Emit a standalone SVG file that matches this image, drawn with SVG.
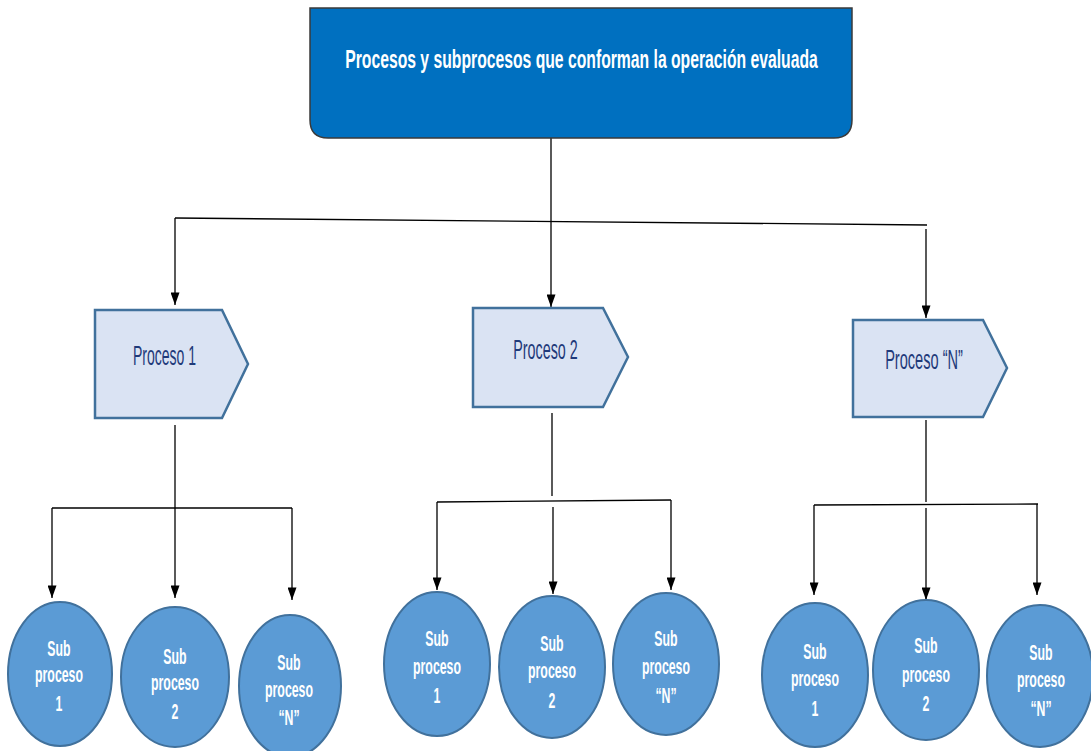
<svg xmlns="http://www.w3.org/2000/svg" width="1091" height="751" viewBox="0 0 1091 751">
<style>
.title{font-family:"Liberation Sans",Arial,sans-serif;font-weight:bold;font-size:26px;fill:#ffffff;text-anchor:middle}
.proc{fill:#DAE3F3;stroke:#41719C;stroke-width:2.5}
.ptxt{font-family:"Liberation Sans",Arial,sans-serif;font-size:27px;fill:#1F3A7A;text-anchor:middle}
.sub{fill:#5B9BD5;stroke:#41719C;stroke-width:2}
.stxt{font-family:"Liberation Sans",Arial,sans-serif;font-weight:bold;font-size:22px;fill:#ffffff;text-anchor:middle}
.line{stroke:#000;stroke-width:1.3;fill:none}
.arr{stroke:#000;stroke-width:1.3;fill:none;marker-end:url(#ah)}
</style>
<defs>
<marker id="ah" viewBox="0 0 14 10" refX="14" refY="5" markerWidth="13" markerHeight="9" markerUnits="userSpaceOnUse" orient="auto">
<path d="M0,0 L14,5 L0,10 Z" fill="#000"/>
</marker>
</defs>
<rect width="1091" height="751" fill="#ffffff"/>
<g id="connectors">
<line class="line" x1="551" y1="138" x2="551" y2="222"/>
<line class="line" x1="175" y1="218" x2="927" y2="225"/>
<path class="arr" d="M175,218 L175,305"/>
<path class="arr" d="M551,222 L551,307"/>
<path class="arr" d="M926,229 L926,318"/>
<line class="line" x1="175" y1="425" x2="175" y2="508"/>
<line class="line" x1="52" y1="508" x2="292" y2="508"/>
<path class="arr" d="M52,508 L52,598"/>
<path class="arr" d="M175,508 L175,598"/>
<path class="arr" d="M292,508 L292,600"/>
<line class="line" x1="552" y1="413" x2="552" y2="496"/>
<line class="line" x1="437" y1="502" x2="671" y2="500"/>
<path class="arr" d="M437,502 L437,590"/>
<path class="arr" d="M553,507 L553,594"/>
<path class="arr" d="M671,500 L671,590"/>
<line class="line" x1="926" y1="420" x2="926" y2="502"/>
<line class="line" x1="814" y1="505" x2="1038" y2="504"/>
<path class="arr" d="M814,505 L814,595"/>
<path class="arr" d="M926,508 L926,600"/>
<path class="arr" d="M1037,504 L1037,595"/>
</g>
<g id="top">
<path d="M310,8 L852,8 L852,120 Q852,138 834,138 L328,138 Q310,138 310,120 Z" fill="#0070C0" stroke="#3a3a3a" stroke-width="1.5"/>
<g transform="translate(581.5,68) scale(0.605,1)"><text class="title" x="0" y="0">Procesos y subprocesos que conforman la operación evaluada</text></g>
</g>
<g id="proceso1">
<path class="proc" d="M95,310 L222,310 L248,364 L222,418 L95,418 Z"/>
<g transform="translate(164.5,365) scale(0.52,1)"><text class="ptxt" x="0" y="0">Proceso 1</text></g>
</g>
<g id="proceso2">
<path class="proc" d="M473,308 L603,308 L628,357 L603,407 L473,407 Z"/>
<g transform="translate(545.5,359) scale(0.53,1)"><text class="ptxt" x="0" y="0">Proceso 2</text></g>
</g>
<g id="procesoN">
<path class="proc" d="M853,320 L983,320 L1007,368 L983,417 L853,417 Z"/>
<g transform="translate(924,369) scale(0.54,1)"><text class="ptxt" x="0" y="0">Proceso “N”</text></g>
</g>
<g id="sp1-1">
<ellipse class="sub" cx="60" cy="674" rx="52" ry="72"/>
<g transform="translate(59,0) scale(0.56,1)"><text class="stxt" x="0" y="656">Sub</text><text class="stxt" x="0" y="682">proceso</text><text class="stxt" x="0" y="711">1</text></g>
</g>
<g id="sp1-2">
<ellipse class="sub" cx="175" cy="677" rx="54" ry="70"/>
<g transform="translate(175,0) scale(0.56,1)"><text class="stxt" x="0" y="664">Sub</text><text class="stxt" x="0" y="690">proceso</text><text class="stxt" x="0" y="719">2</text></g>
</g>
<g id="sp1-N">
<ellipse class="sub" cx="290" cy="686" rx="51" ry="71"/>
<g transform="translate(289,0) scale(0.56,1)"><text class="stxt" x="0" y="670">Sub</text><text class="stxt" x="0" y="697">proceso</text><text class="stxt" x="0" y="725">“N”</text></g>
</g>
<g id="sp2-1">
<ellipse class="sub" cx="437" cy="664" rx="53" ry="72"/>
<g transform="translate(437,0) scale(0.56,1)"><text class="stxt" x="0" y="646">Sub</text><text class="stxt" x="0" y="674">proceso</text><text class="stxt" x="0" y="703">1</text></g>
</g>
<g id="sp2-2">
<ellipse class="sub" cx="552" cy="667" rx="53" ry="71"/>
<g transform="translate(552,0) scale(0.56,1)"><text class="stxt" x="0" y="651">Sub</text><text class="stxt" x="0" y="678">proceso</text><text class="stxt" x="0" y="708">2</text></g>
</g>
<g id="sp2-N">
<ellipse class="sub" cx="666" cy="664" rx="53" ry="71"/>
<g transform="translate(666,0) scale(0.56,1)"><text class="stxt" x="0" y="646">Sub</text><text class="stxt" x="0" y="674">proceso</text><text class="stxt" x="0" y="703">“N”</text></g>
</g>
<g id="sp3-1">
<ellipse class="sub" cx="815" cy="675" rx="53" ry="72"/>
<g transform="translate(815,0) scale(0.56,1)"><text class="stxt" x="0" y="659">Sub</text><text class="stxt" x="0" y="686">proceso</text><text class="stxt" x="0" y="716">1</text></g>
</g>
<g id="sp3-2">
<ellipse class="sub" cx="926" cy="670" rx="53" ry="70"/>
<g transform="translate(926,0) scale(0.56,1)"><text class="stxt" x="0" y="653">Sub</text><text class="stxt" x="0" y="682">proceso</text><text class="stxt" x="0" y="711">2</text></g>
</g>
<g id="sp3-N">
<ellipse class="sub" cx="1040" cy="676" rx="53" ry="71"/>
<g transform="translate(1041,0) scale(0.56,1)"><text class="stxt" x="0" y="660">Sub</text><text class="stxt" x="0" y="687">proceso</text><text class="stxt" x="0" y="716">“N”</text></g>
</g>
</svg>
